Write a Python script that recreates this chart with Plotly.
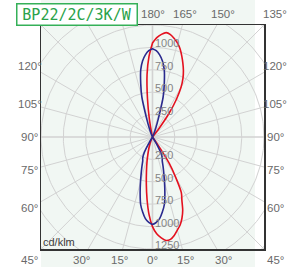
import numpy as np
import plotly.graph_objects as go

# ---------------- data (luminous intensity, cd/klm) ----------------
GAMMA = [0, 2.5, 5, 7.5, 10, 12.5, 15, 17.5, 20, 22.5, 25, 27.5, 30, 32.5, 35, 37.5, 40,
         140, 142.5, 145, 147.5, 150, 152.5, 155, 157.5, 160, 162.5, 165, 167.5, 170, 172.5, 175, 177.5, 180]

# C0 plane (red, right half) and C180 plane (red, left half)
C0 = [1000, 1080, 1130, 1165, 1160, 1125, 1075, 1030, 965, 885, 780, 700, 520, 350, 80, 0, 0,
      0, 120, 330, 500, 640, 740, 820, 890, 960, 1030, 1085, 1125, 1160, 1175, 1150, 1110, 1050]
C180 = [1000, 870, 700, 530, 390, 285, 200, 140, 95, 45, 0, 0, 0, 0, 0, 0, 0,
        0, 0, 0, 0, 0, 0, 0, 0, 0, 0, 0, 40, 200, 430, 700, 900, 1050]

# C90 plane (blue, right half) and C270 plane (blue, left half)
C90 = [975, 955, 915, 845, 765, 640, 520, 420, 345, 285, 260, 210, 90, 0, 0, 0, 0,
       0, 0, 0, 0, 0, 0, 0, 40, 110, 230, 460, 610, 760, 855, 920, 965, 985]
C270 = [975, 955, 915, 845, 765, 640, 520, 420, 345, 285, 260, 210, 90, 0, 0, 0, 0,
        0, 0, 0, 0, 0, 0, 0, 40, 110, 230, 460, 610, 760, 855, 920, 965, 985]

RADIAL_TICKS = [250, 500, 750, 1000, 1250]
GRID_RADII = [250, 500, 750, 1000, 1250, 1500, 1750]
ANGLE_TICKS = [0, 15, 30, 45, 60, 75, 90, 105, 120, 135, 150, 165, 180]
R_MAX = 1250
TITLE = "BP22/2C/3K/W"
UNIT = "cd/klm"

RED = "#e4111f"
BLUE = "#2a2a8e"
GRID = "#d2d2d2"


def half_plane(gamma, values, side):
    g = np.radians(np.asarray(gamma, float))
    v = np.asarray(values, float)
    return side * v * np.sin(g), -v * np.cos(g)


def closed_curve(right, left):
    xr, yr = half_plane(GAMMA, right, 1)
    xl, yl = half_plane(GAMMA, left, -1)
    return np.concatenate([xr, xl[::-1]]), np.concatenate([yr, yl[::-1]])


fig = go.Figure()

# polar grid: circles
cx, cy = [], []
t = np.linspace(0, 2 * np.pi, 361)
for r in GRID_RADII:
    cx += list(r * np.cos(t)) + [None]
    cy += list(r * np.sin(t)) + [None]
fig.add_trace(go.Scatter(x=cx, y=cy, mode="lines", line=dict(color=GRID, width=1),
                         hoverinfo="skip", showlegend=False))

# polar grid: rays every 15 degrees
rx, ry, ax_x, ax_y = [], [], [], []
for a in range(0, 360, 15):
    d = np.radians(a)
    L = 2 * GRID_RADII[-1]
    if a % 90 == 0:
        ax_x += [0, L * np.sin(d), None]
        ax_y += [0, -L * np.cos(d), None]
    else:
        rx += [0, L * np.sin(d), None]
        ry += [0, -L * np.cos(d), None]
fig.add_trace(go.Scatter(x=rx, y=ry, mode="lines", line=dict(color=GRID, width=1),
                         hoverinfo="skip", showlegend=False))
fig.add_trace(go.Scatter(x=ax_x, y=ax_y, mode="lines", line=dict(color=GRID, width=1.6),
                         hoverinfo="skip", showlegend=False))

# intensity curves
for right, left, col, name in [(C0, C180, RED, "C0-C180"), (C90, C270, BLUE, "C90-C270")]:
    x, y = closed_curve(right, left)
    fig.add_trace(go.Scatter(x=x, y=y, mode="lines", name=name,
                             line=dict(color=col, width=1.6, shape="spline", smoothing=0.7),
                             showlegend=False))

annotations = []
# radial labels along the vertical axis
for r in RADIAL_TICKS:
    for sgn in (1, -1):
        if sgn == 1 and r >= R_MAX:
            continue
        annotations.append(dict(x=0, y=sgn * r, xref="x", yref="y", text=str(r),
                                showarrow=False, xanchor="left", yanchor="middle",
                                xshift=0, yshift=4,
                                font=dict(family="Liberation Sans, Arial", size=11, color="#858585")))

# angle labels around the square frame
L = 1.1 * R_MAX
for g in ANGLE_TICKS:
    for side in (1, -1):
        if side == -1 and g in (0, 180):
            continue
        if side == -1 and g == 135:
            continue  # hidden behind the title box in the original
        d = np.radians(g)
        sx, sy = side * np.sin(d), -np.cos(d)
        k = L / max(abs(sx), abs(sy))
        X, Y = sx * k, sy * k
        annotations.append(dict(x=(X + R_MAX) / (2 * R_MAX), y=(Y + R_MAX) / (2 * R_MAX),
                                xref="paper", yref="paper", text=f"{g}°", showarrow=False,
                                xanchor="center", yanchor="middle",
                                font=dict(family="Liberation Sans, Arial", size=11.5, color="#6a6a6a")))

# unit label
annotations.append(dict(x=-R_MAX, y=-R_MAX, xref="x", yref="y", text=UNIT, showarrow=False,
                        xanchor="left", yanchor="bottom", xshift=0, yshift=-1,
                        font=dict(family="Liberation Sans, Arial", size=11, color="#3c3c3c")))

# title box
annotations.append(dict(x=(76.5 - 41) / 223, y=(249 - 15) / 224, xref="paper", yref="paper",
                        text=TITLE, showarrow=False, xanchor="center", yanchor="middle",
                        width=115, height=16, borderpad=2, borderwidth=1.5,
                        bordercolor="#35b058", bgcolor="white",
                        font=dict(family="DejaVu Sans Mono", size=15, color="#2aa24a")))

axis = dict(range=[-R_MAX, R_MAX], showgrid=False, zeroline=False, showticklabels=False,
            ticks="", showline=True, mirror=True, linecolor="#333333", linewidth=1.5,
            fixedrange=True)

fig.update_layout(
    width=290, height=267,
    margin=dict(l=41, r=26, t=25, b=18),
    paper_bgcolor="white",
    plot_bgcolor="rgba(0,0,0,0)",
    xaxis=axis, yaxis=axis,
    annotations=annotations,
    shapes=[dict(type="rect", xref="paper", yref="paper",
                 x0=0, x1=(255 - 41) / 223, y0=-18 / 224, y1=1 + 25 / 224,
                 fillcolor="#f1f7f3", line=dict(width=0), layer="below")],
    showlegend=False,
    hovermode=False,
)

# remove the browser's default body margin so the 290x267 figure fills the window
fig.write_html("out.html",
               config={"displayModeBar": False, "staticPlot": True},
               post_script="document.body.style.margin='0';document.body.style.overflow='hidden';")
